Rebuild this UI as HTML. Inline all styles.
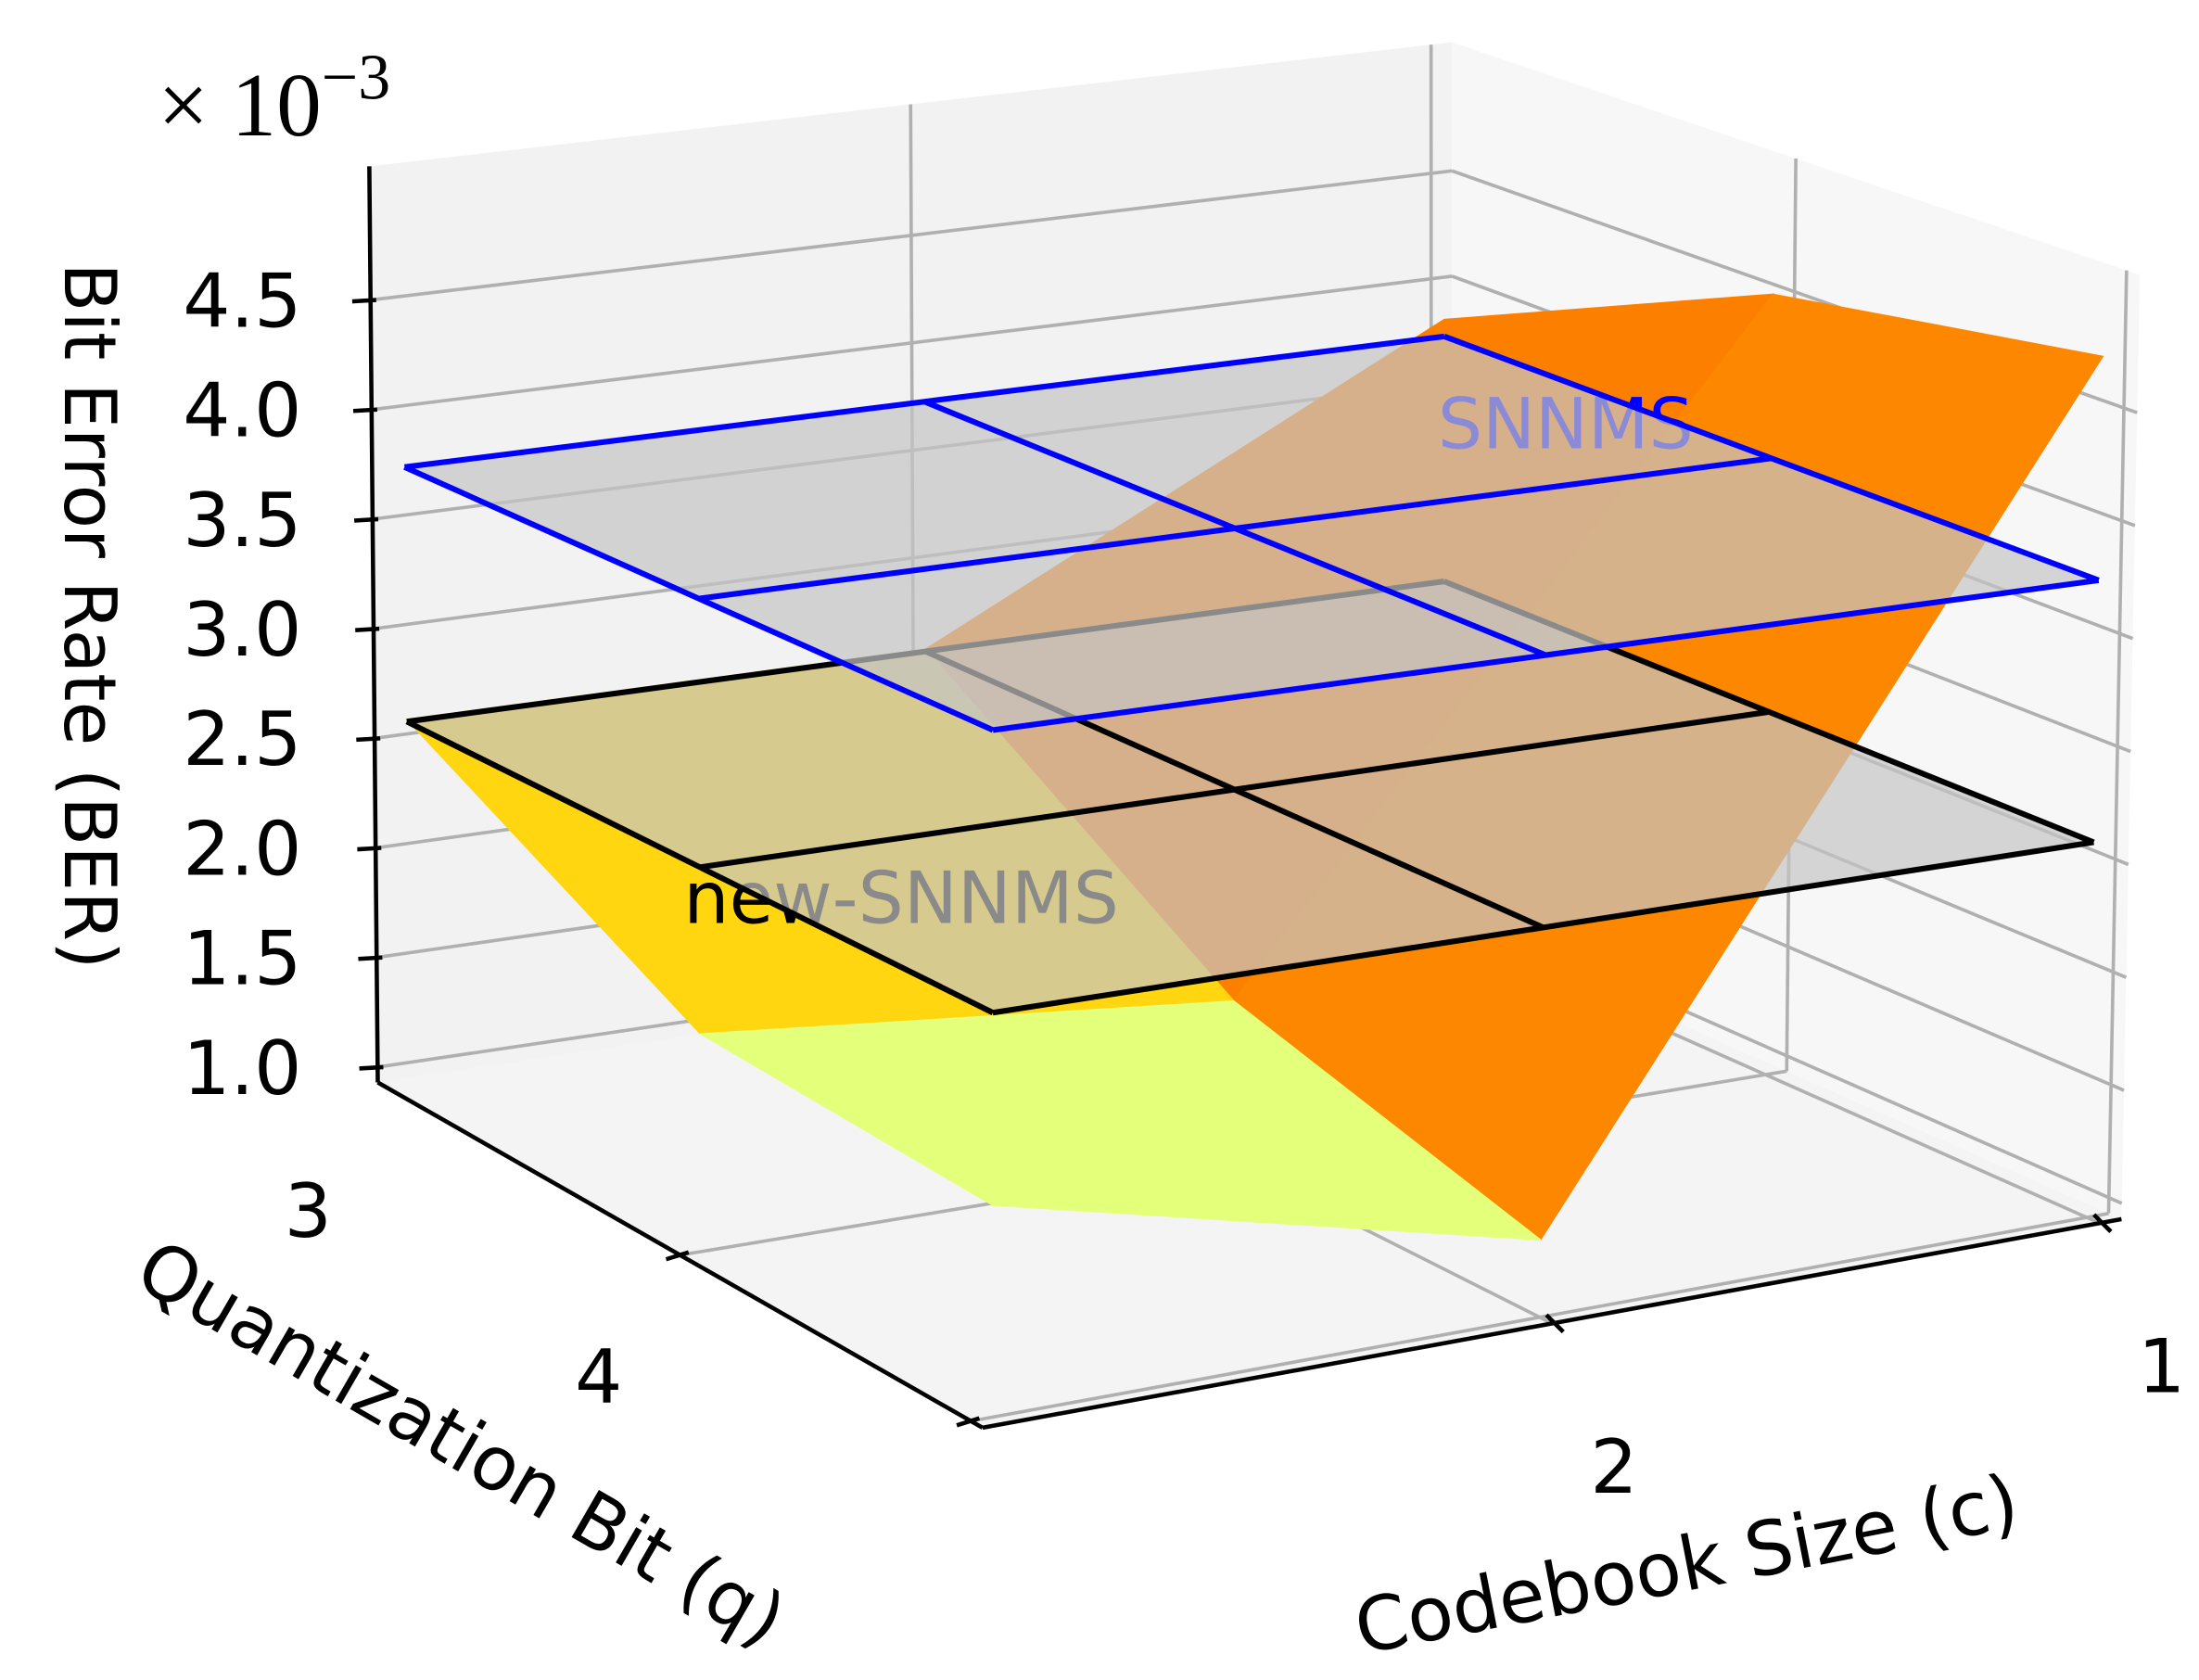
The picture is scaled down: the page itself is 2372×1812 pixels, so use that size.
<!DOCTYPE html>
<html><head><meta charset="utf-8"><style>
html,body{margin:0;padding:0;background:#fff;}
svg{display:block;font-family:"DejaVu Sans","Liberation Sans",sans-serif;}
</style></head><body>
<svg id="chart" width="2372" height="1812" viewBox="0 0 1560 1192" preserveAspectRatio="none" xmlns="http://www.w3.org/2000/svg">
<g id="panes"></g><g id="grid"></g><g id="axes"></g><g id="surf"></g><g id="labels"></g><g id="planes"></g><g id="text"></g>
</svg>
<script>
// ---- data ----
const qValues = [2, 3, 4];          // quantization bit grid
const cValues = [3, 2, 1];          // codebook size grid
const surfaceZ = [                  // BER (x1e-3) surface, rows = q, cols = c
  [2.60, 2.60, 3.83],
  [1.87, 1.65, 4.50],
  [1.80, 1.26, 4.74]
];
const snnmsPlaneZ = [[3.75,3.75,3.75],[3.75,3.75,3.75],[3.75,3.75,3.75]];
const newPlaneZ   = [[2.59,2.59,2.59],[2.59,2.59,2.59],[2.59,2.59,2.59]];
const zTicks = [1.0, 1.5, 2.0, 2.5, 3.0, 3.5, 4.0, 4.5];
const zTickLabels = ["1.0","1.5","2.0","2.5","3.0","3.5","4.0","4.5"];
const qTicks = [3, 4];
const cTicks = [2, 1];

// ---- projection ----
const Q0=1.96,Q1=4.04,C0=0.96,C1=3.04,Z0=0.93,Z1=5.11;
const FL={L:[268,768],F:[697,1013],B:[1030,655],R:[1505,865]};
const TP={L:[262,118],F:[697,288],B:[1030,30],R:[1518,195]};
function bil(S,a,b){
  const x=(1-a)*(1-b)*S.L[0]+a*(1-b)*S.F[0]+(1-a)*b*S.B[0]+a*b*S.R[0];
  const y=(1-a)*(1-b)*S.L[1]+a*(1-b)*S.F[1]+(1-a)*b*S.B[1]+a*b*S.R[1];
  return [x,y];
}
function P(a,b,t){const f=bil(FL,a,b),u=bil(TP,a,b);return [f[0]+(u[0]-f[0])*t,f[1]+(u[1]-f[1])*t];}
function aq(q){return (q-Q0)/(Q1-Q0);}
function bc(c){return (C1-c)/(C1-C0);}
function tz(z){return (z-Z0)/(Z1-Z0);}
function proj(q,c,z){return P(aq(q),bc(c),tz(z));}

const NS="http://www.w3.org/2000/svg";
function mk(tag,parent,attrs){const e=document.createElementNS(NS,tag);for(const k in attrs)e.setAttribute(k,attrs[k]);parent.appendChild(e);return e;}
const pts=a=>a.map(p=>p[0].toFixed(1)+","+p[1].toFixed(1)).join(" ");
const G=id=>document.getElementById(id);

// panes
let e;
e=mk("polygon",G("panes"),{points:pts([P(0,0,0),P(0,1,0),P(0,1,1),P(0,0,1)]),fill:"#f2f2f2"});


e=mk("polygon",G("panes"),{points:pts([P(0,1,0),P(1,1,0),P(1,1,1),P(0,1,1)]),fill:"#f7f7f7"});


e=mk("polygon",G("panes"),{points:pts([P(0,0,0),P(1,0,0),P(1,1,0),P(0,1,0)]),fill:"#f4f4f4"});



// gridlines
function gl(p1,p2,name){const l=mk("line",G("grid"),{x1:p1[0],y1:p1[1],x2:p2[0],y2:p2[1],stroke:"#b0b0b0","stroke-width":2.4});

}
zTicks.forEach(z=>{const t=tz(z);gl(P(0,0,t),P(0,1,t),'z-gridline-back');gl(P(0,1,t),P(1,1,t),'z-gridline-right');});
cTicks.forEach(c=>{const b=bc(c);gl(P(0,b,0),P(0,b,1),'c-gridline-back');gl(P(0,b,0),P(1,b,0),'c-gridline-floor');});
qTicks.forEach(q=>{const a=aq(q);gl(P(a,1,0),P(a,1,1),'q-gridline-right');gl(P(a,0,0),P(a,1,0),'q-gridline-floor');});

// axes
function al(p1,p2,name,w){const l=mk("line",G("axes"),{x1:p1[0],y1:p1[1],x2:p2[0],y2:p2[1],stroke:"#000","stroke-width":w||3});

}
al(P(0,0,0),P(0,0,1),'z-axis-line');
al(P(0,0,0),P(1,0,0),'q-axis-line');
al(P(1,0,0),P(1,1,0),'c-axis-line');
zTicks.forEach((z,i)=>{const p=P(0,0,tz(z));al([p[0]-13,p[1]+1],[p[0]+4,p[1]],'z-tick');
 const tx=mk("text",G("labels"),{x:214,y:p[1]+19,"text-anchor":"end","font-size":53,fill:"#000"});tx.textContent=zTickLabels[i];
 
 });
qTicks.forEach(q=>{const p=P(aq(q),0,0);al([p[0]-10,p[1]+3],[p[0]+6,p[1]-2],'q-tick');
 const tx=mk("text",G("labels"),{x:p[0]-264,y:p[1]-13,"text-anchor":"middle","font-size":53,fill:"#000"});tx.textContent=String(q);
 
 });
cTicks.forEach(c=>{const p=P(1,bc(c),0);al([p[0]-4,p[1]-6],[p[0]+8,p[1]+6],'c-tick');
 const tx=mk("text",G("labels"),{x:p[0]+44,y:p[1]+120,"text-anchor":"middle","font-size":53,fill:"#000"});tx.textContent=String(c);
 
 });

// surface (colormap Wistia-like by cell mean)
const cmap=[[0,[228,255,122]],[0.25,[255,232,26]],[0.5,[255,189,0]],[0.75,[255,160,0]],[1,[252,127,0]]];
function col(v){v=Math.max(0,Math.min(1,v));for(let i=1;i<cmap.length;i++){if(v<=cmap[i][0]){const[a0,c0]=cmap[i-1],[a1,c1]=cmap[i];const f=(v-a0)/(a1-a0);return "rgb("+c0.map((x,k)=>Math.round(x+(c1[k]-x)*f)).join(",")+")";}}return "rgb(252,127,0)";}
const cells=[];
for(let i=0;i<qValues.length-1;i++)for(let j=0;j<cValues.length-1;j++){
 const m=(surfaceZ[i][j]+surfaceZ[i+1][j]+surfaceZ[i][j+1]+surfaceZ[i+1][j+1])/4;cells.push({i,j,m});}
const ms=cells.map(c=>c.m),mn=Math.min(...ms),mx=Math.max(...ms);
cells.sort((A,B)=>(aq(qValues[A.i])-bc(cValues[A.j]))-(aq(qValues[B.i])-bc(cValues[B.j])));
cells.forEach(cl=>{const {i,j}=cl;
 const poly=[proj(qValues[i],cValues[j],surfaceZ[i][j]),proj(qValues[i+1],cValues[j],surfaceZ[i+1][j]),proj(qValues[i+1],cValues[j+1],surfaceZ[i+1][j+1]),proj(qValues[i],cValues[j+1],surfaceZ[i][j+1])];
 const p=mk("polygon",G("surf"),{points:pts(poly),fill:col((cl.m-mn)/(mx-mn)),stroke:col((cl.m-mn)/(mx-mn)),"stroke-width":1});
 
 });

// text labels under planes
let t1=mk("text",G("surf"),{x:1020,y:318,"font-size":50,fill:"#0000ff"});t1.textContent="SNNMS";


let t2=mk("text",G("surf"),{x:485,y:655,"font-size":51,fill:"#000"});t2.textContent="new-SNNMS";



// planes
function plane(Z,stroke,name){
 const g=mk("g",G("planes"),{});
 
 
 const n=qValues.length-1,m=cValues.length-1;
 const outline=[proj(qValues[0],cValues[0],Z[0][0]),proj(qValues[n],cValues[0],Z[n][0]),proj(qValues[n],cValues[m],Z[n][m]),proj(qValues[0],cValues[m],Z[0][m])];
 mk("polygon",g,{points:pts(outline),fill:"rgb(197,197,197)","fill-opacity":0.7});
 for(let i=0;i<=n;i++){const l=mk("polyline",g,{points:pts(cValues.map((c,j)=>proj(qValues[i],c,Z[i][j]))),fill:"none",stroke:stroke,"stroke-width":4,"stroke-linejoin":"round"});
  
  }
 for(let j=0;j<=m;j++){const l=mk("polyline",g,{points:pts(qValues.map((q,i)=>proj(q,cValues[j],Z[i][j]))),fill:"none",stroke:stroke,"stroke-width":4,"stroke-linejoin":"round"});
  
  }
}
plane(newPlaneZ,"#000","new-snnms-plane");
plane(snnmsPlaneZ,"#0000ff","snnms-plane");

// axis titles
let a1=mk("text",G("text"),{x:0,y:0,"font-size":51,"text-anchor":"middle",transform:"translate(46,437) rotate(90)",fill:"#000"});a1.textContent="Bit Error Rate (BER)";


let a2=mk("text",G("text"),{x:0,y:0,"font-size":53,"text-anchor":"middle",transform:"translate(318,1040) rotate(30)",fill:"#000"});a2.textContent="Quantization Bit (q)";


let a3=mk("text",G("text"),{x:0,y:0,"font-size":53,"text-anchor":"middle",transform:"translate(1200,1128) rotate(-11)",fill:"#000"});a3.textContent="Codebook Size (c)";


let a4=mk("text",G("text"),{x:112,y:96,"font-size":64,"font-family":"Liberation Serif, serif",fill:"#000"});
a4.innerHTML='× 10<tspan dy="-26" font-size="46">−3</tspan>';


</script>
</body></html>
